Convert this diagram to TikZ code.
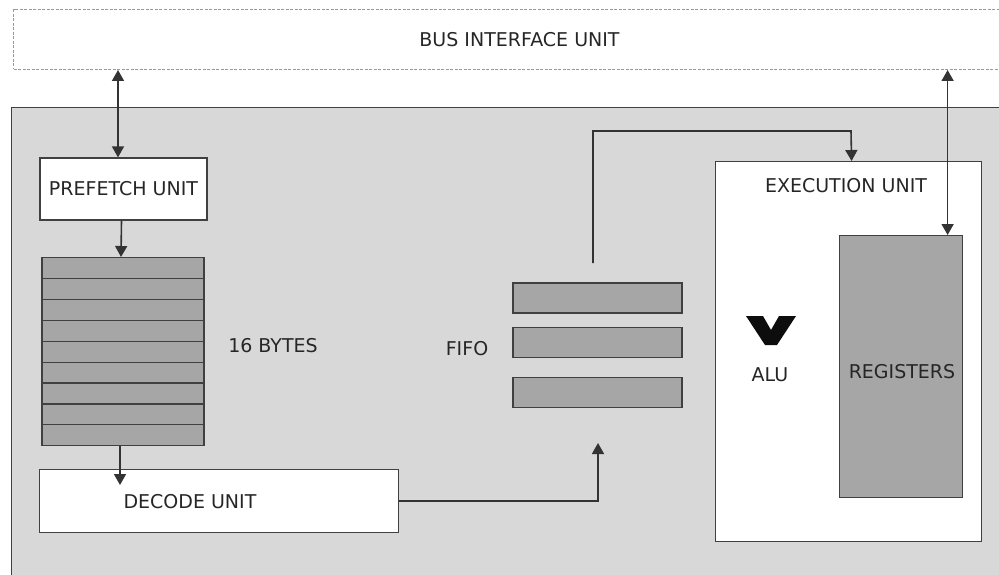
\documentclass[tikz,border=0pt]{standalone}
\usepackage{fontspec}
\setmainfont{DejaVu Sans}
\usepackage{xcolor}
\usepackage{tikz}
\usetikzlibrary{arrows.meta,positioning}

\definecolor{cpugray}{HTML}{D8D8D8}
\definecolor{bargray}{HTML}{A6A6A6}

\begin{document}
\begin{tikzpicture}[x=1pt, y=-1pt,
  unit/.style={rectangle, draw=black!75, fill=white, line width=1.2pt, inner sep=0pt},
  bar/.style={rectangle, draw=black!75, fill=bargray, line width=1.2pt, inner sep=0pt},
  lbl/.style={font=\fontsize{19}{22}\selectfont, text=black!85, inner sep=0pt},
  arr/.style={-{Triangle[length=11pt, width=12pt]}, line width=1.6pt, color=black!80},
  biarr/.style={{Triangle[length=11pt, width=12pt]}-{Triangle[length=11pt, width=12pt]},
    line width=1.6pt, color=black!80},
]
  \useasboundingbox (0,0) rectangle (999,575);
  \clip (0,0) rectangle (999,575);

  \node[rectangle, draw=black!40, dash pattern=on 3pt off 1.5pt, line width=1pt, inner sep=0pt,
    minimum width=1012pt, minimum height=60pt, anchor=north west, lbl] (biu) at (13,9) {BUS INTERFACE UNIT};
  \node[unit, fill=cpugray, minimum width=1010pt, minimum height=480pt, anchor=north west] (cpu) at (11,107) {};

  \node[unit, lbl, minimum width=167pt, minimum height=62pt] (prefetch) at (123.5,189) {PREFETCH UNIT};

  \foreach \i in {0,...,8}
    \node[bar, minimum width=162pt, minimum height=20.9pt, anchor=north] (byte\i) at (123,{257+\i*20.9}) {};
  \node[lbl] (bytes) at (273,346) {16 BYTES};

  \node[unit, minimum width=359pt, minimum height=63pt, anchor=north west] (decode) at (39,469) {};
  \node[lbl] (decodetxt) at (190,502) {DECODE UNIT};

  \foreach \y [count=\k] in {298,342.5,392.5}
    \node[bar, minimum width=169pt, minimum height=30pt] (fifo\k) at (597.5,\y) {};
  \node[lbl] (fifotxt) at (467,349) {FIFO};

  \node[unit, minimum width=266pt, minimum height=380pt, anchor=north west] (exec) at (715,161) {};
  \node[lbl] (exectxt) at (846,186) {EXECUTION UNIT};
  \node[bar, minimum width=123pt, minimum height=262pt, anchor=north west] (regs) at (839,235) {};
  \node[lbl] (regstxt) at (902,372) {REGISTERS};

  \fill[black!95] (746,316) -- (763,316) -- (771,330) -- (779,316) -- (796,316)
    -- (777,345) -- (765,345) -- cycle;
  \node[lbl] (alu) at (770,375) {ALU};

  \coordinate (dectip) at (120,485);
  \coordinate (fifoin) at (598,443);
  \coordinate (fifoout) at (593,263);
  \coordinate (bend) at (851,131);

  \draw[biarr] ([xshift=-5.5pt]prefetch.north) -- ([xshift=-5.5pt]prefetch.north |- biu.south);
  \draw[arr] ([xshift=-2pt]prefetch.south) -- ([xshift=-2pt]byte0.north);
  \draw[arr] ([xshift=-3pt]byte8.south) -- (dectip);
  \draw[arr] (decode.east) -| (fifoin);
  \draw[arr] (fifoout) |- (bend) -- ([xshift=3pt]exec.north);
  \draw[biarr] ([xshift=46.5pt]regs.north) -- ([xshift=46.5pt]regs.north |- biu.south);
\end{tikzpicture}
\end{document}
